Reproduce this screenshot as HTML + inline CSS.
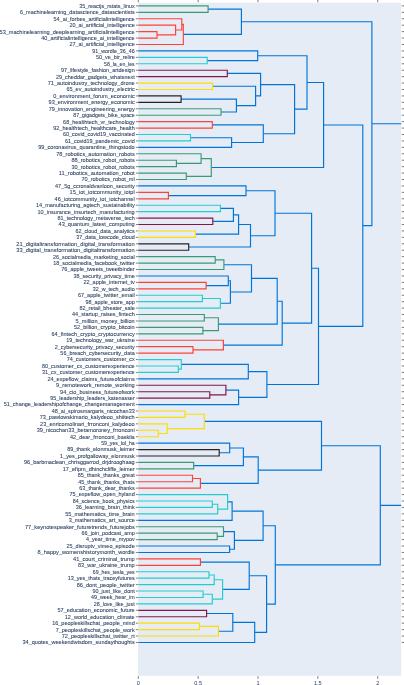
<!DOCTYPE html><html><head><meta charset="utf-8"><style>html,body{margin:0;padding:0;background:#fff;width:404px;height:685px;overflow:hidden;}svg{display:block;position:absolute;left:0;top:0;}.tx{will-change:transform;}text{font-family:"Liberation Sans",sans-serif;}</style></head><body>
<svg width="404" height="685" viewBox="0 0 404 685">
<rect x="0" y="0" width="404" height="685" fill="#fff"/>
<rect x="138.0" y="2.7" width="263.2" height="673.1" fill="#E5ECF6"/>
<clipPath id="cp"><rect x="138.0" y="2.7" width="263.2" height="673.1"/></clipPath>
<g clip-path="url(#cp)" fill="none" stroke-width="1.15" stroke-linejoin="miter">
<path d="M371.90 123.71H420.00V505.33H380.30" stroke="rgb(0,116,217)"/>
<path d="M321.50 445.75H380.30V564.91H275.30" stroke="rgb(0,116,217)"/>
<path d="M263.10 525.73H275.30V604.09H266.60" stroke="rgb(0,116,217)"/>
<path d="M249.20 575.76H266.60V632.42H254.70" stroke="rgb(0,116,217)"/>
<path d="M232.80 622.38H254.70V642.47H138.30" stroke="rgb(0,116,217)"/>
<path d="M206.60 613.53H232.80V631.22H218.40" stroke="rgb(0,116,217)"/>
<path d="M199.40 626.39H218.40V636.04H138.30" stroke="rgb(255,220,0)"/>
<path d="M138.30 623.18H199.40V629.61H138.30" stroke="rgb(255,220,0)"/>
<path d="M138.30 610.32H206.60V616.75H138.30" stroke="rgb(133,20,75)"/>
<path d="M200.40 562.10H249.20V589.42H222.60" stroke="rgb(0,116,217)"/>
<path d="M214.20 579.78H222.60V599.07H212.30" stroke="rgb(35,205,205)"/>
<path d="M203.10 594.24H212.30V603.89H138.30" stroke="rgb(35,205,205)"/>
<path d="M138.30 591.03H203.10V597.46H138.30" stroke="rgb(35,205,205)"/>
<path d="M209.00 574.95H214.20V584.60H138.30" stroke="rgb(35,205,205)"/>
<path d="M138.30 571.74H209.00V578.17H138.30" stroke="rgb(35,205,205)"/>
<path d="M138.30 558.88H200.40V565.31H138.30" stroke="rgb(255,65,54)"/>
<path d="M232.10 511.06H263.10V540.39H234.40" stroke="rgb(0,116,217)"/>
<path d="M223.50 531.55H234.40V549.23H229.60" stroke="rgb(0,116,217)"/>
<path d="M138.30 546.02H229.60V552.45H138.30" stroke="rgb(0,116,217)"/>
<path d="M138.30 526.73H223.50V536.38H217.20" stroke="rgb(61,153,112)"/>
<path d="M138.30 533.16H217.20V539.59H138.30" stroke="rgb(61,153,112)"/>
<path d="M227.60 501.81H232.10V520.30H138.30" stroke="rgb(0,116,217)"/>
<path d="M138.30 494.58H227.60V509.05H217.70" stroke="rgb(35,205,205)"/>
<path d="M212.30 504.22H217.70V513.87H138.30" stroke="rgb(35,205,205)"/>
<path d="M138.30 501.01H212.30V507.44H138.30" stroke="rgb(35,205,205)"/>
<path d="M204.30 421.44H321.50V470.07H258.20" stroke="rgb(0,116,217)"/>
<path d="M243.40 456.80H258.20V483.33H200.40" stroke="rgb(0,116,217)"/>
<path d="M192.50 478.50H200.40V488.15H138.30" stroke="rgb(255,65,54)"/>
<path d="M138.30 475.29H192.50V481.72H138.30" stroke="rgb(255,65,54)"/>
<path d="M229.70 447.96H243.40V465.64H193.70" stroke="rgb(0,116,217)"/>
<path d="M138.30 462.43H193.70V468.86H138.30" stroke="rgb(61,153,112)"/>
<path d="M138.30 443.14H229.70V452.78H219.20" stroke="rgb(0,116,217)"/>
<path d="M138.30 449.57H219.20V456.00H138.30" stroke="rgb(40,35,35)"/>
<path d="M185.00 414.20H204.30V428.67H167.20" stroke="rgb(255,220,0)"/>
<path d="M138.30 423.85H167.20V433.50H158.30" stroke="rgb(255,220,0)"/>
<path d="M138.30 430.28H158.30V436.71H138.30" stroke="rgb(255,220,0)"/>
<path d="M138.30 410.99H185.00V417.42H138.30" stroke="rgb(255,220,0)"/>
<path d="M241.40 21.77H371.90V225.65H362.80" stroke="rgb(0,116,217)"/>
<path d="M323.60 124.96H362.80V326.35H318.50" stroke="rgb(0,116,217)"/>
<path d="M311.60 268.22H318.50V384.47H266.90" stroke="rgb(0,116,217)"/>
<path d="M248.30 371.61H266.90V397.33H238.60" stroke="rgb(0,116,217)"/>
<path d="M225.90 390.09H238.60V404.56H138.30" stroke="rgb(0,116,217)"/>
<path d="M138.30 385.27H225.90V394.91H209.80" stroke="rgb(133,20,75)"/>
<path d="M138.30 391.70H209.80V398.13H138.30" stroke="rgb(133,20,75)"/>
<path d="M181.30 364.37H248.30V378.84H138.30" stroke="rgb(0,116,217)"/>
<path d="M138.30 359.55H181.30V369.19H178.30" stroke="rgb(35,205,205)"/>
<path d="M138.30 365.98H178.30V372.41H138.30" stroke="rgb(35,205,205)"/>
<path d="M275.00 213.27H311.60V323.18H282.20" stroke="rgb(0,116,217)"/>
<path d="M277.20 301.28H282.20V345.08H223.40" stroke="rgb(0,116,217)"/>
<path d="M138.30 340.26H223.40V349.90H193.00" stroke="rgb(255,65,54)"/>
<path d="M138.30 346.69H193.00V353.12H138.30" stroke="rgb(255,65,54)"/>
<path d="M251.50 278.37H277.20V324.19H218.40" stroke="rgb(0,116,217)"/>
<path d="M204.30 317.75H218.40V330.62H202.90" stroke="rgb(61,153,112)"/>
<path d="M138.30 327.40H202.90V333.83H138.30" stroke="rgb(61,153,112)"/>
<path d="M138.30 314.54H204.30V320.97H138.30" stroke="rgb(61,153,112)"/>
<path d="M223.90 264.71H251.50V292.03H230.40" stroke="rgb(0,116,217)"/>
<path d="M228.30 280.78H230.40V303.29H220.40" stroke="rgb(0,116,217)"/>
<path d="M202.40 298.46H220.40V308.11H138.30" stroke="rgb(35,205,205)"/>
<path d="M138.30 295.25H202.40V301.68H138.30" stroke="rgb(35,205,205)"/>
<path d="M138.30 275.96H228.30V285.60H206.10" stroke="rgb(0,116,217)"/>
<path d="M138.30 282.39H206.10V288.82H138.30" stroke="rgb(255,65,54)"/>
<path d="M215.20 259.88H223.90V269.53H138.30" stroke="rgb(61,153,112)"/>
<path d="M138.30 256.67H215.20V263.10H138.30" stroke="rgb(61,153,112)"/>
<path d="M246.00 190.76H275.00V235.77H250.50" stroke="rgb(0,116,217)"/>
<path d="M238.60 224.52H250.50V247.02H188.70" stroke="rgb(0,116,217)"/>
<path d="M138.30 243.81H188.70V250.24H138.30" stroke="rgb(40,35,35)"/>
<path d="M233.40 214.88H238.60V234.16H195.40" stroke="rgb(0,116,217)"/>
<path d="M138.30 230.95H195.40V237.38H138.30" stroke="rgb(255,220,0)"/>
<path d="M220.40 208.44H233.40V221.31H212.80" stroke="rgb(0,116,217)"/>
<path d="M138.30 218.09H212.80V224.52H138.30" stroke="rgb(133,20,75)"/>
<path d="M138.30 205.23H220.40V211.66H138.30" stroke="rgb(35,205,205)"/>
<path d="M138.30 185.94H246.00V195.58H168.40" stroke="rgb(0,116,217)"/>
<path d="M138.30 192.37H168.40V198.80H138.30" stroke="rgb(255,65,54)"/>
<path d="M307.00 82.46H323.60V167.45H211.30" stroke="rgb(0,116,217)"/>
<path d="M201.10 158.61H211.30V176.30H186.30" stroke="rgb(61,153,112)"/>
<path d="M138.30 173.08H186.30V179.51H138.30" stroke="rgb(61,153,112)"/>
<path d="M138.30 153.79H201.10V163.44H176.40" stroke="rgb(61,153,112)"/>
<path d="M138.30 160.22H176.40V166.65H138.30" stroke="rgb(61,153,112)"/>
<path d="M257.70 55.73H307.00V109.18H294.60" stroke="rgb(0,116,217)"/>
<path d="M260.60 84.67H294.60V133.70H263.30" stroke="rgb(0,116,217)"/>
<path d="M212.30 124.85H263.30V142.54H231.60" stroke="rgb(0,116,217)"/>
<path d="M190.50 137.72H231.60V147.36H138.30" stroke="rgb(0,116,217)"/>
<path d="M138.30 134.50H190.50V140.93H138.30" stroke="rgb(35,205,205)"/>
<path d="M138.30 121.64H212.30V128.07H138.30" stroke="rgb(255,65,54)"/>
<path d="M227.30 73.41H260.60V95.92H255.60" stroke="rgb(0,116,217)"/>
<path d="M212.60 86.28H255.60V105.56H236.40" stroke="rgb(0,116,217)"/>
<path d="M181.10 99.13H236.40V112.00H221.00" stroke="rgb(0,116,217)"/>
<path d="M138.30 108.78H221.00V115.21H138.30" stroke="rgb(61,153,112)"/>
<path d="M138.30 95.92H181.10V102.35H138.30" stroke="rgb(40,35,35)"/>
<path d="M138.30 83.06H212.60V89.49H138.30" stroke="rgb(255,220,0)"/>
<path d="M138.30 70.20H227.30V76.63H138.30" stroke="rgb(133,20,75)"/>
<path d="M138.30 50.91H257.70V60.55H207.20" stroke="rgb(0,116,217)"/>
<path d="M138.30 57.34H207.20V63.77H138.30" stroke="rgb(35,205,205)"/>
<path d="M208.10 9.12H241.40V34.43H183.30" stroke="rgb(0,116,217)"/>
<path d="M138.30 5.90H208.10V12.33H138.30" stroke="rgb(61,153,112)"/>
<path d="M181.80 24.39H183.30V44.48H138.30" stroke="rgb(255,65,54)"/>
<path d="M138.30 18.76H181.80V30.01H175.60" stroke="rgb(255,65,54)"/>
<path d="M138.30 25.19H175.60V34.83H157.00" stroke="rgb(255,65,54)"/>
<path d="M138.30 31.62H157.00V38.05H138.30" stroke="rgb(255,65,54)"/>
</g>
<path d="M135.9 5.90H137.9M401.8 5.90H404M135.9 12.33H137.9M401.8 12.33H404M135.9 18.76H137.9M401.8 18.76H404M135.9 25.19H137.9M401.8 25.19H404M135.9 31.62H137.9M401.8 31.62H404M135.9 38.05H137.9M401.8 38.05H404M135.9 44.48H137.9M401.8 44.48H404M135.9 50.91H137.9M401.8 50.91H404M135.9 57.34H137.9M401.8 57.34H404M135.9 63.77H137.9M401.8 63.77H404M135.9 70.20H137.9M401.8 70.20H404M135.9 76.63H137.9M401.8 76.63H404M135.9 83.06H137.9M401.8 83.06H404M135.9 89.49H137.9M401.8 89.49H404M135.9 95.92H137.9M401.8 95.92H404M135.9 102.35H137.9M401.8 102.35H404M135.9 108.78H137.9M401.8 108.78H404M135.9 115.21H137.9M401.8 115.21H404M135.9 121.64H137.9M401.8 121.64H404M135.9 128.07H137.9M401.8 128.07H404M135.9 134.50H137.9M401.8 134.50H404M135.9 140.93H137.9M401.8 140.93H404M135.9 147.36H137.9M401.8 147.36H404M135.9 153.79H137.9M401.8 153.79H404M135.9 160.22H137.9M401.8 160.22H404M135.9 166.65H137.9M401.8 166.65H404M135.9 173.08H137.9M401.8 173.08H404M135.9 179.51H137.9M401.8 179.51H404M135.9 185.94H137.9M401.8 185.94H404M135.9 192.37H137.9M401.8 192.37H404M135.9 198.80H137.9M401.8 198.80H404M135.9 205.23H137.9M401.8 205.23H404M135.9 211.66H137.9M401.8 211.66H404M135.9 218.09H137.9M401.8 218.09H404M135.9 224.52H137.9M401.8 224.52H404M135.9 230.95H137.9M401.8 230.95H404M135.9 237.38H137.9M401.8 237.38H404M135.9 243.81H137.9M401.8 243.81H404M135.9 250.24H137.9M401.8 250.24H404M135.9 256.67H137.9M401.8 256.67H404M135.9 263.10H137.9M401.8 263.10H404M135.9 269.53H137.9M401.8 269.53H404M135.9 275.96H137.9M401.8 275.96H404M135.9 282.39H137.9M401.8 282.39H404M135.9 288.82H137.9M401.8 288.82H404M135.9 295.25H137.9M401.8 295.25H404M135.9 301.68H137.9M401.8 301.68H404M135.9 308.11H137.9M401.8 308.11H404M135.9 314.54H137.9M401.8 314.54H404M135.9 320.97H137.9M401.8 320.97H404M135.9 327.40H137.9M401.8 327.40H404M135.9 333.83H137.9M401.8 333.83H404M135.9 340.26H137.9M401.8 340.26H404M135.9 346.69H137.9M401.8 346.69H404M135.9 353.12H137.9M401.8 353.12H404M135.9 359.55H137.9M401.8 359.55H404M135.9 365.98H137.9M401.8 365.98H404M135.9 372.41H137.9M401.8 372.41H404M135.9 378.84H137.9M401.8 378.84H404M135.9 385.27H137.9M401.8 385.27H404M135.9 391.70H137.9M401.8 391.70H404M135.9 398.13H137.9M401.8 398.13H404M135.9 404.56H137.9M401.8 404.56H404M135.9 410.99H137.9M401.8 410.99H404M135.9 417.42H137.9M401.8 417.42H404M135.9 423.85H137.9M401.8 423.85H404M135.9 430.28H137.9M401.8 430.28H404M135.9 436.71H137.9M401.8 436.71H404M135.9 443.14H137.9M401.8 443.14H404M135.9 449.57H137.9M401.8 449.57H404M135.9 456.00H137.9M401.8 456.00H404M135.9 462.43H137.9M401.8 462.43H404M135.9 468.86H137.9M401.8 468.86H404M135.9 475.29H137.9M401.8 475.29H404M135.9 481.72H137.9M401.8 481.72H404M135.9 488.15H137.9M401.8 488.15H404M135.9 494.58H137.9M401.8 494.58H404M135.9 501.01H137.9M401.8 501.01H404M135.9 507.44H137.9M401.8 507.44H404M135.9 513.87H137.9M401.8 513.87H404M135.9 520.30H137.9M401.8 520.30H404M135.9 526.73H137.9M401.8 526.73H404M135.9 533.16H137.9M401.8 533.16H404M135.9 539.59H137.9M401.8 539.59H404M135.9 546.02H137.9M401.8 546.02H404M135.9 552.45H137.9M401.8 552.45H404M135.9 558.88H137.9M401.8 558.88H404M135.9 565.31H137.9M401.8 565.31H404M135.9 571.74H137.9M401.8 571.74H404M135.9 578.17H137.9M401.8 578.17H404M135.9 584.60H137.9M401.8 584.60H404M135.9 591.03H137.9M401.8 591.03H404M135.9 597.46H137.9M401.8 597.46H404M135.9 603.89H137.9M401.8 603.89H404M135.9 610.32H137.9M401.8 610.32H404M135.9 616.75H137.9M401.8 616.75H404M135.9 623.18H137.9M401.8 623.18H404M135.9 629.61H137.9M401.8 629.61H404M135.9 636.04H137.9M401.8 636.04H404M135.9 642.47H137.9M401.8 642.47H404" stroke="#444" stroke-width="0.7" fill="none"/>
<path d="M138.30 0V2.2M138.30 676.2V678.8M198.15 0V2.2M198.15 676.2V678.8M258.00 0V2.2M258.00 676.2V678.8M317.85 0V2.2M317.85 676.2V678.8M377.70 0V2.2M377.70 676.2V678.8" stroke="#444" stroke-width="0.7" fill="none"/>
</svg>
<svg class="tx" width="404" height="685" viewBox="0 0 404 685">
<g fill="#2a3f5f" font-size="5.60" text-anchor="end" stroke="#2a3f5f" stroke-width="0.08">
<text x="134.7" y="7.80" textLength="55.51" lengthAdjust="spacingAndGlyphs">35_reactjs_rstats_linux</text>
<text x="134.7" y="14.23" textLength="114.67" lengthAdjust="spacingAndGlyphs">6_machinelearning_datascience_datascientists</text>
<text x="134.7" y="20.66" textLength="81.24" lengthAdjust="spacingAndGlyphs">54_ai_forbes_artificialintelligence</text>
<text x="134.7" y="27.09" textLength="65.30" lengthAdjust="spacingAndGlyphs">20_ai_artificial_intelligence</text>
<text x="134.7" y="33.52" textLength="135.15" lengthAdjust="spacingAndGlyphs">53_machinelearning_deeplearning_artificialintelligence</text>
<text x="134.7" y="39.95" textLength="93.44" lengthAdjust="spacingAndGlyphs">40_artificialintelligence_ai_intelligence</text>
<text x="134.7" y="46.38" textLength="65.30" lengthAdjust="spacingAndGlyphs">27_ai_artificial_intelligence</text>
<text x="134.7" y="52.81" textLength="42.44" lengthAdjust="spacingAndGlyphs">91_wordle_36_46</text>
<text x="134.7" y="59.24" textLength="38.60" lengthAdjust="spacingAndGlyphs">50_ve_bir_relire</text>
<text x="134.7" y="65.67" textLength="30.60" lengthAdjust="spacingAndGlyphs">58_la_en_les</text>
<text x="134.7" y="72.10" textLength="73.70" lengthAdjust="spacingAndGlyphs">97_lifestyle_fashion_artdesign</text>
<text x="134.7" y="78.53" textLength="78.66" lengthAdjust="spacingAndGlyphs">29_cheddar_gadgets_whatsnext</text>
<text x="134.7" y="84.96" textLength="86.96" lengthAdjust="spacingAndGlyphs">71_autoindustry_technology_drone</text>
<text x="134.7" y="91.39" textLength="68.24" lengthAdjust="spacingAndGlyphs">65_ev_autoindustry_electric</text>
<text x="134.7" y="97.82" textLength="81.47" lengthAdjust="spacingAndGlyphs">0_environment_forum_economic</text>
<text x="134.7" y="104.25" textLength="86.09" lengthAdjust="spacingAndGlyphs">93_environment_energy_economic</text>
<text x="134.7" y="110.68" textLength="85.92" lengthAdjust="spacingAndGlyphs">79_innovation_engineering_energy</text>
<text x="134.7" y="117.11" textLength="61.49" lengthAdjust="spacingAndGlyphs">87_gigadgets_bike_space</text>
<text x="134.7" y="123.54" textLength="71.58" lengthAdjust="spacingAndGlyphs">68_healthtech_vr_technology</text>
<text x="134.7" y="129.97" textLength="81.49" lengthAdjust="spacingAndGlyphs">92_healthtech_healthcare_health</text>
<text x="134.7" y="136.40" textLength="71.60" lengthAdjust="spacingAndGlyphs">60_covid_covid19_vaccinated</text>
<text x="134.7" y="142.83" textLength="69.78" lengthAdjust="spacingAndGlyphs">61_covid19_pandemic_covid</text>
<text x="134.7" y="149.26" textLength="96.52" lengthAdjust="spacingAndGlyphs">99_coronavirus_quarantine_thingstodo</text>
<text x="134.7" y="155.69" textLength="78.44" lengthAdjust="spacingAndGlyphs">78_robotics_automation_robots</text>
<text x="134.7" y="162.12" textLength="63.28" lengthAdjust="spacingAndGlyphs">88_robotics_robot_robots</text>
<text x="134.7" y="168.55" textLength="63.28" lengthAdjust="spacingAndGlyphs">30_robotics_robot_robots</text>
<text x="134.7" y="174.98" textLength="75.91" lengthAdjust="spacingAndGlyphs">11_robotics_automation_robot</text>
<text x="134.7" y="181.41" textLength="53.32" lengthAdjust="spacingAndGlyphs">70_robotics_robot_ml</text>
<text x="134.7" y="187.84" textLength="79.64" lengthAdjust="spacingAndGlyphs">47_5g_ccronaldvanloon_security</text>
<text x="134.7" y="194.27" textLength="65.10" lengthAdjust="spacingAndGlyphs">15_iot_iotcommunity_iotpl</text>
<text x="134.7" y="200.70" textLength="80.08" lengthAdjust="spacingAndGlyphs">46_iotcommunity_iot_iotchannel</text>
<text x="134.7" y="207.13" textLength="98.75" lengthAdjust="spacingAndGlyphs">14_manufacturing_agtech_sustainability</text>
<text x="134.7" y="213.56" textLength="97.20" lengthAdjust="spacingAndGlyphs">10_insurance_insurtech_manufacturing</text>
<text x="134.7" y="219.99" textLength="77.15" lengthAdjust="spacingAndGlyphs">81_technology_metaverse_tech</text>
<text x="134.7" y="226.42" textLength="76.14" lengthAdjust="spacingAndGlyphs">43_quantum_latest_computing</text>
<text x="134.7" y="232.85" textLength="59.29" lengthAdjust="spacingAndGlyphs">62_cloud_data_analytics</text>
<text x="134.7" y="239.28" textLength="58.49" lengthAdjust="spacingAndGlyphs">37_data_lowcode_cloud</text>
<text x="134.7" y="245.71" textLength="118.33" lengthAdjust="spacingAndGlyphs">21_digitaltransformation_digital_transformation</text>
<text x="134.7" y="252.14" textLength="118.33" lengthAdjust="spacingAndGlyphs">33_digital_transformation_digitaltransformation</text>
<text x="134.7" y="258.57" textLength="81.71" lengthAdjust="spacingAndGlyphs">26_socialmedia_marketing_social</text>
<text x="134.7" y="265.00" textLength="81.55" lengthAdjust="spacingAndGlyphs">18_socialmedia_facebook_twitter</text>
<text x="134.7" y="271.43" textLength="73.46" lengthAdjust="spacingAndGlyphs">76_apple_tweets_tweetbinder</text>
<text x="134.7" y="277.86" textLength="61.27" lengthAdjust="spacingAndGlyphs">38_security_privacy_time</text>
<text x="134.7" y="284.29" textLength="51.27" lengthAdjust="spacingAndGlyphs">22_apple_internet_tv</text>
<text x="134.7" y="290.72" textLength="42.00" lengthAdjust="spacingAndGlyphs">32_w_tech_audio</text>
<text x="134.7" y="297.15" textLength="56.80" lengthAdjust="spacingAndGlyphs">67_apple_twitter_email</text>
<text x="134.7" y="303.58" textLength="49.22" lengthAdjust="spacingAndGlyphs">98_apple_store_app</text>
<text x="134.7" y="310.01" textLength="55.15" lengthAdjust="spacingAndGlyphs">82_retail_bheater_sale</text>
<text x="134.7" y="316.44" textLength="62.68" lengthAdjust="spacingAndGlyphs">44_startup_raises_fintech</text>
<text x="134.7" y="322.87" textLength="59.10" lengthAdjust="spacingAndGlyphs">5_million_money_billion</text>
<text x="134.7" y="329.30" textLength="60.81" lengthAdjust="spacingAndGlyphs">52_billion_crypto_bitcoin</text>
<text x="134.7" y="335.73" textLength="83.20" lengthAdjust="spacingAndGlyphs">64_fintech_crypto_cryptocurrency</text>
<text x="134.7" y="342.16" textLength="68.44" lengthAdjust="spacingAndGlyphs">19_technology_war_ukraine</text>
<text x="134.7" y="348.59" textLength="80.04" lengthAdjust="spacingAndGlyphs">2_cybersecurity_privacy_security</text>
<text x="134.7" y="355.02" textLength="74.33" lengthAdjust="spacingAndGlyphs">56_breach_cybersecurity_data</text>
<text x="134.7" y="361.45" textLength="68.03" lengthAdjust="spacingAndGlyphs">74_customers_customer_cx</text>
<text x="134.7" y="367.88" textLength="92.75" lengthAdjust="spacingAndGlyphs">80_customer_cx_customerexperience</text>
<text x="134.7" y="374.31" textLength="92.75" lengthAdjust="spacingAndGlyphs">31_cx_customer_customerexperience</text>
<text x="134.7" y="380.74" textLength="87.31" lengthAdjust="spacingAndGlyphs">24_expeflow_claims_futureofclaims</text>
<text x="134.7" y="387.17" textLength="78.57" lengthAdjust="spacingAndGlyphs">9_remotework_remote_working</text>
<text x="134.7" y="393.60" textLength="74.62" lengthAdjust="spacingAndGlyphs">94_cio_business_futureofwork</text>
<text x="134.7" y="400.03" textLength="84.51" lengthAdjust="spacingAndGlyphs">95_leadership_leaders_katenasser</text>
<text x="134.7" y="406.46" textLength="130.99" lengthAdjust="spacingAndGlyphs">51_change_leadershipofchange_changemanagement</text>
<text x="134.7" y="412.89" textLength="82.92" lengthAdjust="spacingAndGlyphs">48_ai_spirosmargaris_nicochan33</text>
<text x="134.7" y="419.32" textLength="95.02" lengthAdjust="spacingAndGlyphs">73_pawlowskimario_kalydeoo_shiitech</text>
<text x="134.7" y="425.75" textLength="94.59" lengthAdjust="spacingAndGlyphs">23_enricomolinari_frronconi_kalydeoo</text>
<text x="134.7" y="432.18" textLength="98.05" lengthAdjust="spacingAndGlyphs">39_nicochan33_betamoroney_frronconi</text>
<text x="134.7" y="438.61" textLength="64.67" lengthAdjust="spacingAndGlyphs">42_dear_frronconi_baskila</text>
<text x="134.7" y="445.04" textLength="33.50" lengthAdjust="spacingAndGlyphs">59_yes_lol_ha</text>
<text x="134.7" y="451.47" textLength="67.40" lengthAdjust="spacingAndGlyphs">89_thank_elonmusk_leimer</text>
<text x="134.7" y="457.90" textLength="74.59" lengthAdjust="spacingAndGlyphs">1_yes_profgalloway_elonmusk</text>
<text x="134.7" y="464.33" textLength="110.78" lengthAdjust="spacingAndGlyphs">96_barbmaclean_chrisggarrod_drjdrooghaag</text>
<text x="134.7" y="470.76" textLength="71.97" lengthAdjust="spacingAndGlyphs">17_efipm_dhinchcliffe_leimer</text>
<text x="134.7" y="477.19" textLength="56.90" lengthAdjust="spacingAndGlyphs">85_thank_thanks_great</text>
<text x="134.7" y="483.62" textLength="56.51" lengthAdjust="spacingAndGlyphs">45_thank_thanks_thats</text>
<text x="134.7" y="490.05" textLength="55.37" lengthAdjust="spacingAndGlyphs">63_thank_dear_thanks</text>
<text x="134.7" y="496.48" textLength="65.12" lengthAdjust="spacingAndGlyphs">75_expeflow_open_hyland</text>
<text x="134.7" y="502.91" textLength="61.93" lengthAdjust="spacingAndGlyphs">84_science_book_physics</text>
<text x="134.7" y="509.34" textLength="58.93" lengthAdjust="spacingAndGlyphs">36_learning_brain_think</text>
<text x="134.7" y="515.77" textLength="69.50" lengthAdjust="spacingAndGlyphs">55_mathematics_time_brain</text>
<text x="134.7" y="522.20" textLength="66.02" lengthAdjust="spacingAndGlyphs">3_mathematics_art_source</text>
<text x="134.7" y="528.63" textLength="109.70" lengthAdjust="spacingAndGlyphs">77_keynotespeaker_futuretrends_futurejobs</text>
<text x="134.7" y="535.06" textLength="53.12" lengthAdjust="spacingAndGlyphs">66_join_podcast_amp</text>
<text x="134.7" y="541.49" textLength="48.80" lengthAdjust="spacingAndGlyphs">4_year_time_mypov</text>
<text x="134.7" y="547.92" textLength="68.24" lengthAdjust="spacingAndGlyphs">25_disruptv_vimeo_episode</text>
<text x="134.7" y="554.35" textLength="97.28" lengthAdjust="spacingAndGlyphs">8_happy_womenshistorymonth_wordle</text>
<text x="134.7" y="560.78" textLength="61.62" lengthAdjust="spacingAndGlyphs">41_court_criminal_trump</text>
<text x="134.7" y="567.21" textLength="56.71" lengthAdjust="spacingAndGlyphs">83_war_ukraine_trump</text>
<text x="134.7" y="573.64" textLength="41.84" lengthAdjust="spacingAndGlyphs">69_hes_tesla_yes</text>
<text x="134.7" y="580.07" textLength="66.92" lengthAdjust="spacingAndGlyphs">13_yes_thats_traceyfutures</text>
<text x="134.7" y="586.50" textLength="58.07" lengthAdjust="spacingAndGlyphs">86_dont_people_twitter</text>
<text x="134.7" y="592.93" textLength="42.27" lengthAdjust="spacingAndGlyphs">90_just_like_dont</text>
<text x="134.7" y="599.36" textLength="43.73" lengthAdjust="spacingAndGlyphs">49_week_hear_im</text>
<text x="134.7" y="605.79" textLength="40.86" lengthAdjust="spacingAndGlyphs">28_love_like_just</text>
<text x="134.7" y="612.22" textLength="77.20" lengthAdjust="spacingAndGlyphs">57_education_economic_future</text>
<text x="134.7" y="618.65" textLength="69.93" lengthAdjust="spacingAndGlyphs">12_world_education_climate</text>
<text x="134.7" y="625.08" textLength="82.54" lengthAdjust="spacingAndGlyphs">16_peopleskillschat_people_mind</text>
<text x="134.7" y="631.51" textLength="79.00" lengthAdjust="spacingAndGlyphs">7_peopleskillschat_people_work</text>
<text x="134.7" y="637.94" textLength="73.01" lengthAdjust="spacingAndGlyphs">72_peopleskillschat_twitter_rt</text>
<text x="134.7" y="644.37" textLength="112.19" lengthAdjust="spacingAndGlyphs">34_quotes_weekendwisdom_sundaythoughts</text>
</g>
<g fill="#2a3f5f" font-size="5.6" text-anchor="middle">
<text x="138.30" y="685.2">0</text>
<text x="198.15" y="685.2">0.5</text>
<text x="258.00" y="685.2">1</text>
<text x="317.85" y="685.2">1.5</text>
<text x="377.70" y="685.2">2</text>
</g>
</svg></body></html>
